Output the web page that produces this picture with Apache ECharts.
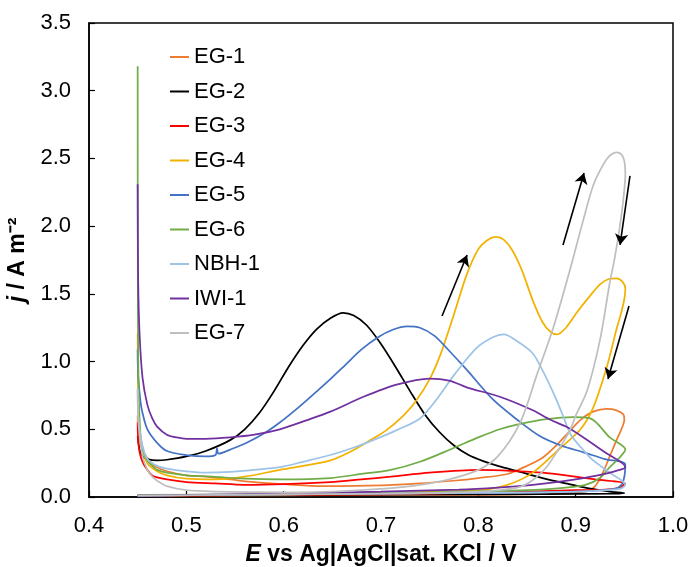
<!DOCTYPE html>
<html>
<head>
<meta charset="utf-8">
<script src="https://cdn.jsdelivr.net/npm/echarts@6/dist/echarts.min.js"></script>
<style>
html,body{margin:0;padding:0;background:#fff;}
#chart{width:692px;height:567px;}
</style>
</head>
<body>
<div id="chart"></div>
<script>
// Series names
const seriesNames = ['EG-1','EG-2','EG-3','EG-4','EG-5','EG-6','NBH-1','IWI-1','EG-7'];
const seriesColors = ['#ED7D31','#000000','#FF0000','#F2B200','#4472C4','#70AD47','#9DC3E6','#7030A0','#BFBFBF'];

// Axis ticks
const xTicks = {min:0.4, max:1.0, step:0.1};
const yTicks = {min:0, max:3.5, step:0.5};

// Each CV: [E (V), j (A m^-2)] in scan order (forward 0.45 -> 0.95, reverse back)
const eg1 = [[0.45,0.6],[0.4505,0.5],[0.453,0.4],[0.457,0.32],[0.463,0.26],[0.47,0.22],[0.48,0.19],[0.5,0.16],[0.52,0.15],[0.545,0.13],[0.57,0.11],[0.6,0.095],[0.64,0.08],[0.7,0.085],[0.74,0.1],[0.774,0.12],[0.8,0.14],[0.83,0.17],[0.85,0.23],[0.866,0.29],[0.88,0.38],[0.893,0.48],[0.905,0.57],[0.918,0.63],[0.932,0.65],[0.942,0.64],[0.949,0.61],[0.95,0.57],
  [0.947,0.5],[0.942,0.42],[0.935,0.3],[0.928,0.18],[0.92,0.08],[0.91,0.04],[0.85,0.02],[0.7,0.015],[0.45,0.01]];
const eg2 = [[0.45,0.45],[0.452,0.35],[0.455,0.3],[0.46,0.28],[0.47,0.27],[0.48,0.275],[0.5,0.3],[0.52,0.34],[0.545,0.42],[0.56,0.5],[0.575,0.62],[0.59,0.78],[0.605,0.96],[0.62,1.12],[0.634,1.24],[0.648,1.32],[0.661,1.36],[0.672,1.34],[0.685,1.27],[0.7,1.13],[0.715,0.96],[0.73,0.78],[0.745,0.61],[0.76,0.48],[0.775,0.38],[0.79,0.31],[0.805,0.265],[0.82,0.23],[0.843,0.185],[0.866,0.14],[0.89,0.1],[0.912,0.066],[0.935,0.04],[0.95,0.03],
  [0.94,0.025],[0.8,0.02],[0.6,0.015],[0.45,0.01]];
const eg3 = [[0.45,0.55],[0.4505,0.42],[0.452,0.33],[0.455,0.26],[0.46,0.2],[0.465,0.16],[0.47,0.145],[0.48,0.13],[0.5,0.11],[0.53,0.1],[0.56,0.09],[0.6,0.095],[0.648,0.11],[0.68,0.13],[0.71,0.15],[0.75,0.18],[0.8,0.2],[0.843,0.19],[0.866,0.18],[0.89,0.16],[0.92,0.13],[0.951,0.1],
  [0.945,0.07],[0.93,0.055],[0.9,0.05],[0.85,0.04],[0.8,0.03],[0.7,0.02],[0.6,0.015],[0.45,0.01]];
const eg4 = [[0.45,1.21],[0.4505,0.8],[0.452,0.5],[0.455,0.35],[0.46,0.25],[0.47,0.19],[0.48,0.16],[0.5,0.135],[0.53,0.13],[0.56,0.15],[0.596,0.2],[0.62,0.23],[0.648,0.27],[0.67,0.34],[0.689,0.42],[0.705,0.49],[0.72,0.58],[0.735,0.7],[0.75,0.87],[0.762,1.07],[0.775,1.35],[0.788,1.64],[0.8,1.83],[0.81,1.9],[0.818,1.92],[0.826,1.9],[0.835,1.82],[0.845,1.67],[0.856,1.45],[0.866,1.29],[0.874,1.22],[0.881,1.2],[0.89,1.25],[0.901,1.36],[0.913,1.47],[0.925,1.57],[0.934,1.61],[0.942,1.615],[0.948,1.59],[0.951,1.54],
  [0.95,1.46],[0.946,1.34],[0.942,1.24],[0.932,0.96],[0.918,0.66],[0.905,0.5],[0.884,0.36],[0.856,0.18],[0.83,0.09],[0.8,0.05],[0.7,0.03],[0.6,0.02],[0.45,0.01]];
const eg5 = [[0.45,1.09],[0.4505,0.9],[0.453,0.7],[0.455,0.62],[0.46,0.5],[0.47,0.4],[0.48,0.34],[0.5,0.31],[0.52,0.3],[0.53,0.31],[0.5315,0.36],[0.533,0.32],[0.545,0.35],[0.562,0.4],[0.58,0.47],[0.596,0.55],[0.615,0.66],[0.634,0.78],[0.648,0.87],[0.664,0.98],[0.68,1.09],[0.697,1.18],[0.712,1.235],[0.727,1.26],[0.74,1.25],[0.755,1.19],[0.77,1.08],[0.788,0.94],[0.815,0.72],[0.84,0.57],[0.863,0.45],[0.885,0.38],[0.908,0.33],[0.93,0.28],[0.951,0.24],
  [0.948,0.1],[0.94,0.06],[0.9,0.04],[0.8,0.03],[0.6,0.02],[0.45,0.01]];
const eg6 = [[0.45,3.18],[0.4502,1.5],[0.451,0.8],[0.453,0.45],[0.456,0.33],[0.46,0.27],[0.465,0.23],[0.47,0.2],[0.48,0.18],[0.5,0.16],[0.527,0.15],[0.56,0.135],[0.6,0.13],[0.648,0.14],[0.68,0.17],[0.71,0.2],[0.74,0.26],[0.774,0.36],[0.8,0.44],[0.822,0.5],[0.843,0.54],[0.87,0.575],[0.897,0.59],[0.915,0.58],[0.935,0.44],[0.951,0.35],
  [0.945,0.29],[0.935,0.22],[0.925,0.14],[0.91,0.09],[0.89,0.07],[0.85,0.05],[0.75,0.035],[0.6,0.02],[0.45,0.015]];
const nbh1 = [[0.45,0.8],[0.4505,0.6],[0.453,0.45],[0.456,0.35],[0.46,0.28],[0.47,0.23],[0.48,0.21],[0.5,0.19],[0.52,0.18],[0.545,0.185],[0.57,0.2],[0.596,0.22],[0.62,0.26],[0.648,0.31],[0.67,0.36],[0.692,0.42],[0.715,0.49],[0.74,0.58],[0.757,0.72],[0.775,0.9],[0.798,1.1],[0.815,1.18],[0.826,1.2],[0.84,1.15],[0.856,1.06],[0.867,0.92],[0.877,0.77],[0.887,0.6],[0.895,0.46],[0.91,0.33],[0.918,0.27],[0.935,0.18],[0.951,0.09],
  [0.945,0.06],[0.9,0.04],[0.8,0.03],[0.6,0.02],[0.45,0.01]];
const iwi1 = [[0.45,2.31],[0.4505,1.6],[0.452,1.2],[0.455,0.88],[0.46,0.68],[0.465,0.58],[0.47,0.52],[0.48,0.46],[0.49,0.44],[0.5,0.43],[0.52,0.43],[0.545,0.44],[0.57,0.46],[0.596,0.5],[0.625,0.57],[0.648,0.63],[0.682,0.74],[0.716,0.83],[0.75,0.875],[0.77,0.86],[0.788,0.81],[0.822,0.74],[0.856,0.64],[0.874,0.57],[0.89,0.52],[0.908,0.44],[0.93,0.33],[0.951,0.22],
  [0.945,0.2],[0.93,0.17],[0.908,0.14],[0.88,0.11],[0.856,0.09],[0.82,0.07],[0.78,0.055],[0.7,0.04],[0.6,0.025],[0.5,0.015],[0.45,0.01]];
const eg7 = [[0.45,0.8],[0.4505,0.6],[0.452,0.45],[0.455,0.3],[0.46,0.2],[0.465,0.15],[0.47,0.12],[0.48,0.08],[0.5,0.05],[0.53,0.04],[0.6,0.035],[0.65,0.04],[0.7,0.06],[0.74,0.09],[0.77,0.13],[0.8,0.2],[0.82,0.3],[0.843,0.55],[0.86,0.9],[0.877,1.25],[0.895,1.7],[0.908,2.05],[0.918,2.3],[0.928,2.45],[0.935,2.52],[0.942,2.545],[0.947,2.53],[0.95,2.48],[0.951,2.38],
  [0.949,2.2],[0.945,1.98],[0.94,1.76],[0.935,1.58],[0.925,1.16],[0.912,0.79],[0.9,0.6],[0.894,0.49],[0.884,0.37],[0.87,0.22],[0.855,0.12],[0.84,0.07],[0.8,0.04],[0.7,0.025],[0.6,0.02],[0.45,0.01]];
const seriesData = [eg1, eg2, eg3, eg4, eg5, eg6, nbh1, iwi1, eg7];

// Scan-direction arrows: [E start, j start, E end, j end]
const arrows = [
  [0.7627,1.337,0.7884,1.787],
  [0.887,1.861,0.9086,2.393],
  [0.9558,2.371,0.9456,1.861],
  [0.9548,1.411,0.9332,0.871]
];

const FONT = '"Liberation Sans", Arial, sans-serif';
const chart = echarts.init(document.getElementById('chart'), null, {renderer:'canvas'});

const series = seriesNames.map((n,i)=>({
  name:n, type:'line', data:seriesData[i], showSymbol:false, symbol:'none',
  smooth:0.3, clip:true,
  lineStyle:{color:seriesColors[i], width:1.75},
  itemStyle:{color:seriesColors[i]},
  emphasis:{disabled:true}, animation:false
}));
series.push({
  name:'arrows', type:'line', data:[], animation:false,
  markLine:{
    silent:true, animation:false,
    symbol:['none','arrow'], symbolSize:[10,11],
    label:{show:false},
    lineStyle:{color:'#000', width:1.6, type:'solid'},
    emphasis:{disabled:true},
    data: arrows.map(a=>[{coord:[a[0],a[1]]},{coord:[a[2],a[3]]}])
  }
});

chart.setOption({
  backgroundColor:'#fff',
  animation:false,
  grid:{left:89, right:19, top:23, bottom:70, containLabel:false, outerBoundsMode:'none',
        show:true, borderColor:'#000', borderWidth:1.5},
  legend:{
    data:seriesNames, orient:'vertical', left:165, top:41,
    itemWidth:19, itemHeight:2, itemGap:12.5, icon:'rect',
    textStyle:{fontFamily:FONT, fontSize:22, color:'#000', lineHeight:22}
  },
  xAxis:{
    type:'value', min:xTicks.min, max:xTicks.max, interval:xTicks.step,
    axisLine:{show:true, lineStyle:{color:'#000', width:1.5}},
    axisTick:{show:true, inside:true, length:6, lineStyle:{color:'#000', width:1.2}},
    splitLine:{show:false},
    axisLabel:{fontFamily:FONT, fontSize:22, color:'#000', margin:18, formatter:v=>v.toFixed(1)},
    name:'{i|E} vs Ag|AgCl|sat. KCl / V', nameLocation:'middle', nameGap:46,
    nameTextStyle:{fontFamily:FONT, fontSize:23, fontWeight:'bold', color:'#000',
      rich:{i:{fontFamily:FONT, fontSize:23, fontWeight:'bold', fontStyle:'italic', color:'#000'}}}
  },
  yAxis:{
    type:'value', min:yTicks.min, max:yTicks.max, interval:yTicks.step,
    axisLine:{show:true, lineStyle:{color:'#000', width:1.5}},
    axisTick:{show:true, inside:true, length:6, lineStyle:{color:'#000', width:1.2}},
    splitLine:{show:false},
    axisLabel:{fontFamily:FONT, fontSize:22, color:'#000', margin:18, formatter:v=>v.toFixed(1)},
    name:'{i|j} / A m⁻²', nameLocation:'middle', nameGap:52,
    nameTextStyle:{fontFamily:FONT, fontSize:23, fontWeight:'bold', color:'#000',
      rich:{i:{fontFamily:FONT, fontSize:23, fontWeight:'bold', fontStyle:'italic', color:'#000'}}}
  },
  series:series
});
</script>
</body>
</html>
